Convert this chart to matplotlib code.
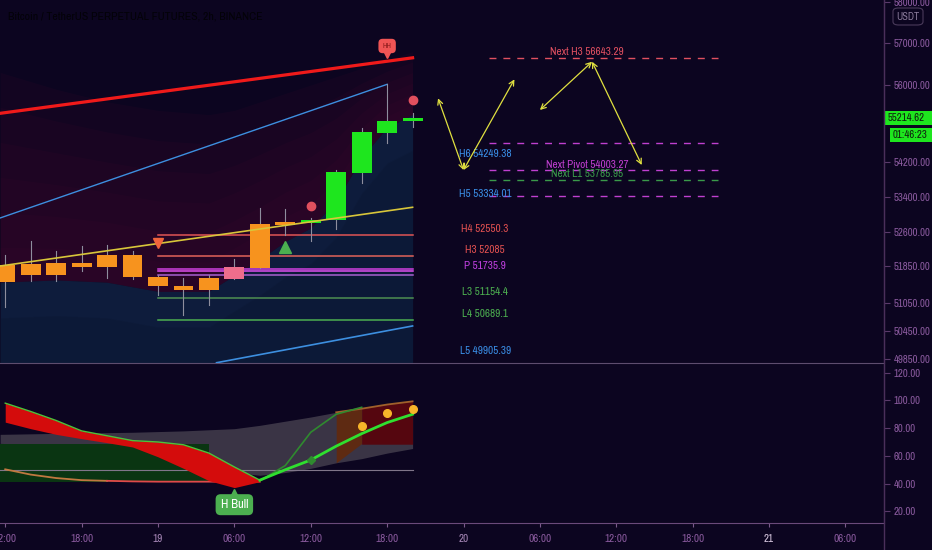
import numpy as np
import matplotlib
matplotlib.use("Agg")
import matplotlib.pyplot as plt
from matplotlib.ticker import FixedLocator, NullLocator, FuncFormatter
from matplotlib.patches import Rectangle, FancyBboxPatch
from matplotlib.lines import Line2D
import logging

logging.getLogger('matplotlib.font_manager').setLevel(logging.ERROR)
plt.rcParams['font.family'] = ['Ubuntu Condensed', 'Archivo Narrow', 'Liberation Sans', 'DejaVu Sans']

BG = '#0c0520'
AXC = '#8a5a9e'

# ---- 2h candles (hours relative to 19th 00:00) ----
hours = [-12, -10, -8, -6, -4, -2, 0, 2, 4, 6, 8, 10, 12, 14, 16, 18, 20]
opens = [51513, 51901, 51665, 51930, 51828, 52093, 51622, 51418, 51331, 51578,
         51806, 52774, 52819, 52880, 53939, 54877, 55140]
closes = [51879, 51665, 51930, 51828, 52093, 51615, 51411, 51331, 51594, 51828,
          52790, 52835, 52880, 53962, 54893, 55157, 55214.62]
highs = [52100, 52410, 52195, 52299, 52315, 52182, 51659, 51600, 51659, 52011,
         53144, 53121, 52931, 54014, 54993, 56016, 55330]
lows = [50968, 51534, 51534, 51740, 51594, 51571, 51222, 50795, 50999, 51578,
        51806, 52544, 52410, 52685, 53717, 54630, 55003]
candle_colors = ['#f7931e'] * 9 + ['#ee6d8c'] + ['#f7931e'] * 2 + ['#1ee61e'] * 5

# background clouds
cloud_h = [-12.4, -8, -4, 0, 4, 6, 8, 10, 12, 14, 16, 18, 20]
cloud_top = [56300, 55900, 55600, 55400, 55300, 55400, 55600, 55800, 56000, 56200, 56400, 56600, 56800]
navy_top = [51500, 51550, 51500, 51300, 51300, 51650, 52000, 52400, 52700, 53300, 54300, 55000, 55300]

# trend lines (hour, price)
red_line = ([-12.4, 20], [55330, 56650])
blue_up = ([-12.4, 18], [52925, 56016])
blue_low = ([4.6, 20], [49770, 50553])
yellow_line = ([-12.4, 20], [51856, 53166])

# pivots of the day
piv_levels = [52550.3, 52085, 51791, 51736, 51665, 51154.4, 50689.1]
piv_colors = ['#e05555', '#e2635a', '#d040e0', '#e050f0', '#a860d0', '#4e8f52', '#4caf50']
piv_labels = ['H6 54249.38', 'H5 53334.01', 'H4 52550.3', 'H3 52085', 'P 51735.9',
              'L3 51154.4', 'L4 50689.1', 'L5 49905.39']
piv_label_levels = [54249.38, 53334.01, 52550.3, 52085, 51735.9, 51154.4, 50689.1, 49905.39]
piv_label_colors = ['#3a8ee6', '#3a8ee6', '#e05050', '#e05050', '#c040e0', '#4caf50', '#4caf50', '#3a8ee6']

# next-day dashed levels
next_levels = [56643.29, 54630, 54003.27, 53785.95, 53422]
next_colors = ['#e05060', '#c040d0', '#c040d0', '#3a9a4a', '#c040d0']
next_labels = ['Next H3 56643.29', '', 'Next Pivot 54003.27', 'Next L1 53785.95', '']

# projection arrows (h0, p0, h1, p1)
arrows = [(22, 55684, 24, 54014), (24, 54014, 28, 56135),
          (30, 55409, 34.1, 56556), (34.1, 56556, 38, 54129)]

# ---- oscillator pane ----
rib_h = [-12, -10, -8, -6, -4, -2, 0, 2, 4, 6, 8]
rib_fast = [98, 92, 85.5, 78, 74.5, 71, 70, 68, 62, 52, 42.5]
rib_slow = [84.3, 79.6, 75.5, 72.4, 69.5, 66.4, 59.3, 51, 42.1, 37.1, 41.4]
orange_line = [50.3, 46.5, 44, 42.5, 42, 41.6, 41.4, 41.4, 41.4, 41.4, 41.4]
band_h = [-12.4, -6, -2, 2, 6, 8, 10, 12, 14, 16, 18, 20]
band_up = [75.5, 76.5, 77, 78, 79.6, 82, 85, 88, 91.4, 94, 97, 99.3]
band_lo = [69, 67, 64, 58, 48, 46, 48, 51, 55, 58, 62, 65.3]
green_h = [8, 10, 12, 14, 16, 18, 20]
green_main = [42.5, 50, 57, 67, 76, 84, 90]
thin_h = [8, 10, 12, 14, 16]
thin_green = [42, 53, 77, 90, 95]
dot_h = [16, 18, 20]
dot_v = [81.2, 90.7, 93.9]

xticks = [-12, -6, 0, 6, 12, 18, 24, 30, 36, 42, 48, 54]
xlabels = ['12:00', '18:00', '19', '06:00', '12:00', '18:00', '20', '06:00', '12:00', '18:00', '21', '06:00']
yticks = [58000, 57000, 56000, 54200, 53400, 52600, 51850, 51050, 50450, 49850]
osc_ticks = [120, 100, 80, 60, 40, 20]

fig = plt.figure(figsize=(9.32, 5.5), dpi=100, facecolor=BG)
ax = fig.add_axes([0, 187 / 550, 884 / 932, 363 / 550], facecolor=BG)
ax2 = fig.add_axes([0, 27 / 550, 884 / 932, 158 / 550], facecolor=BG)

XMIN, XMAX = -12.41, 57.03

# clouds: soft layered haze
ct = np.array(cloud_top, dtype=float)
nt = np.array(navy_top, dtype=float)
for k in range(6):
    f = k / 6.0
    top = np.exp(np.log(ct) * (1 - f) + np.log(nt) * f)
    ax.fill_between(cloud_h, nt, top, color='#3c0a2c', alpha=0.16, lw=0, zorder=0)
ax.fill_between(cloud_h, 49000, navy_top, color='#0f1f40', alpha=0.9, lw=0, zorder=0)
ax.fill_between(cloud_h, 49000, np.array(navy_top) * 0.985, color='#0c1834', alpha=0.5, lw=0, zorder=0)

# pivot lines
for lv, c in zip(piv_levels, piv_colors):
    ax.plot([0, 20], [lv, lv], color=c, lw=1.1, zorder=2)
for lab, lv, c in zip(piv_labels, piv_label_levels, piv_label_colors):
    ax.text(25.7, lv * 1.0003, lab, color=c, fontsize=8, ha='center', va='bottom', zorder=5)

for lv, c, lab in zip(next_levels, next_colors, next_labels):
    ax.plot([26, 44], [lv, lv], color=c, lw=1, dashes=(5, 5), zorder=2)
    if lab:
        ax.text(33.7, lv * 1.0003, lab, color=c, fontsize=8, ha='center', va='bottom', zorder=5)

# trend lines
ax.plot(*red_line, color='#f01a1a', lw=2.3, zorder=4)
ax.plot(*blue_up, color='#3d8fe0', lw=1, zorder=3)
ax.plot(*blue_low, color='#3d8fe0', lw=1.2, zorder=3)
ax.plot(*yellow_line, color='#d8c63a', lw=1.2, zorder=4)

# candles
for h, o, c, hi, lo, col in zip(hours, opens, closes, highs, lows, candle_colors):
    ax.plot([h, h], [lo, hi], color='#8e8e9e', lw=0.8, zorder=3)
    b0, b1 = min(o, c), max(o, c)
    ax.add_patch(Rectangle((h - 0.78, b0), 1.56, max(b1 - b0, 10), color=col, lw=0, zorder=3.5))

# markers
ax.plot(0, 52359, marker='v', ms=7, color='#f0643c', zorder=5)
ax.plot(10, 52283, marker='^', ms=8, color='#4caf50', zorder=5)
ax.plot([12, 20], [53195, 55644], 'o', ms=6, color='#e0505e', zorder=5)
ax.plot(18, 56730, marker='v', ms=6, color='#f05454', zorder=5)
ax.text(18, 56935, 'HH', fontsize=5.5, color='#8a1a1a', ha='center', va='center', zorder=6,
        bbox=dict(boxstyle='round,pad=0.55', fc='#f05454', ec='none'))

for h0, p0, h1, p1 in arrows:
    ax.annotate('', xy=(h1, p1), xytext=(h0, p0),
                arrowprops=dict(arrowstyle='<->', color='#e0e040', lw=0.9, mutation_scale=9,
                                shrinkA=0, shrinkB=0), zorder=6)

ax.set_yscale('log')
ax.set_xlim(XMIN, XMAX)
ax.set_ylim(49764, 58058)
ax.yaxis.set_major_locator(FixedLocator(yticks))
ax.yaxis.set_minor_locator(NullLocator())
ax.yaxis.set_major_formatter(FuncFormatter(lambda v, p: '%.2f' % v))
ax.tick_params(axis='y', which='both', left=False, labelleft=False, right=True, labelright=True,
               length=4, color='#5a3a6a', labelcolor=AXC, labelsize=7.8, pad=3)
ax.tick_params(axis='x', bottom=False, labelbottom=False)
for s in ['top', 'left']:
    ax.spines[s].set_visible(False)
ax.spines['right'].set_color('#4a2f5a')
ax.spines['bottom'].set_color('#5e4d6e')

ax.text(0.009, 0.955, 'Bitcoin / TetherUS PERPETUAL FUTURES, 2h, BINANCE', transform=ax.transAxes,
        fontsize=8.5, fontweight='bold', color='#030208', ha='left', va='center')

# ---- oscillator ----
ax2.fill_between(band_h, band_lo, band_up, color='#3d3748', alpha=0.95, lw=0, zorder=1)
ax2.fill_between([-12.4, 4], [41.4, 41.4], [68.4, 68.4], color='#0a3512', lw=0, zorder=1.5)
ax2.plot([-12.4, 20], [50, 50], color='#80768a', lw=0.8, zorder=1.6)
ax2.plot(rib_h[:5], orange_line[:5], color='#c07840', lw=1.3, zorder=2)
ax2.plot(rib_h[4:], orange_line[4:], color='#e04a4a', lw=1.3, zorder=2)
ax2.fill_between(rib_h, rib_slow, rib_fast, color='#d40c0c', lw=0, zorder=3)
ax2.plot(rib_h, rib_fast, color='#4ec23a', lw=1, zorder=3.2)
ax2.fill_between([14, 16], [55, 68.9], [91.4, 94], color='#5e2a12', lw=0, zorder=2.5)
ax2.fill_between([16, 18, 20], [68.4, 68.4, 68.4], [94, 97, 99.3], color='#55060f', lw=0, zorder=2.5)
ax2.plot(band_h[8:], band_up[8:], color='#a0602a', lw=1.3, zorder=2.6)
ax2.plot(thin_h, thin_green, color='#2f8a2f', lw=1.2, zorder=3.5)
ax2.plot(green_h, green_main, color='#2fe02f', lw=2, zorder=4)
ax2.plot(dot_h, dot_v, 'o', ms=5.5, color='#f7b52a', zorder=5)
ax2.plot(12, 57, marker='D', ms=4, color='#2f8a2f', zorder=4.5)
ax2.plot(6, 33.5, marker='^', ms=6, color='#4caf50', zorder=5)
ax2.text(6, 24.8, 'H Bull', fontsize=9, color='white', ha='center', va='center', zorder=6,
         bbox=dict(boxstyle='round,pad=0.4', fc='#4caf50', ec='none'))

ax2.set_xlim(XMIN, XMAX)
ax2.set_ylim(11.6, 125.5)
ax2.set_xticks(xticks)
ax2.set_xticklabels(xlabels)
ax2.set_yticks(osc_ticks)
ax2.yaxis.set_major_formatter(FuncFormatter(lambda v, p: '%.2f' % v))
ax2.tick_params(axis='y', left=False, labelleft=False, right=True, labelright=True,
                length=4, color='#5a3a6a', labelcolor=AXC, labelsize=7.8, pad=3)
ax2.tick_params(axis='x', length=3, color='#7a5a8a', labelcolor=AXC, labelsize=8, pad=5)
for lab in ax2.get_xticklabels():
    if lab.get_text() in ('19', '20'):
        lab.set_color('#a888b8')
    if lab.get_text() == '21':
        lab.set_color('#d8c8e0')
for s in ['top', 'left']:
    ax2.spines[s].set_visible(False)
ax2.spines['right'].set_color('#4a2f5a')
ax2.spines['bottom'].set_color('#6a4a7a')

# right axis full-height line and price tags
fig.add_artist(Line2D([884 / 932, 884 / 932], [0, 1], color='#4a2f5a', lw=1))
fig.add_artist(Rectangle((884 / 932, 1 - 125 / 550), 48 / 932, 14 / 550, color='#1ee61e', lw=0))
fig.text(888 / 932, 1 - 118 / 550, '55214.62', fontsize=7.8, color='#10200f', va='center', ha='left')
fig.add_artist(Rectangle((890 / 932, 1 - 142 / 550), 42 / 932, 14 / 550, color='#1ee61e', lw=0))
fig.text(893 / 932, 1 - 135 / 550, '01:46:23', fontsize=7.8, color='#10200f', va='center', ha='left')
fig.add_artist(FancyBboxPatch((893 / 932, 1 - 25 / 550), 30 / 932, 17 / 550,
                              boxstyle='round,pad=0,rounding_size=0.006', fc='none', ec='#4a3a5a', lw=0.8))
fig.text(908 / 932, 1 - 16.5 / 550, 'USDT', fontsize=7.5, color='#8a7a9a', va='center', ha='center')

fig.savefig('out.png', dpi=100, facecolor=BG)
